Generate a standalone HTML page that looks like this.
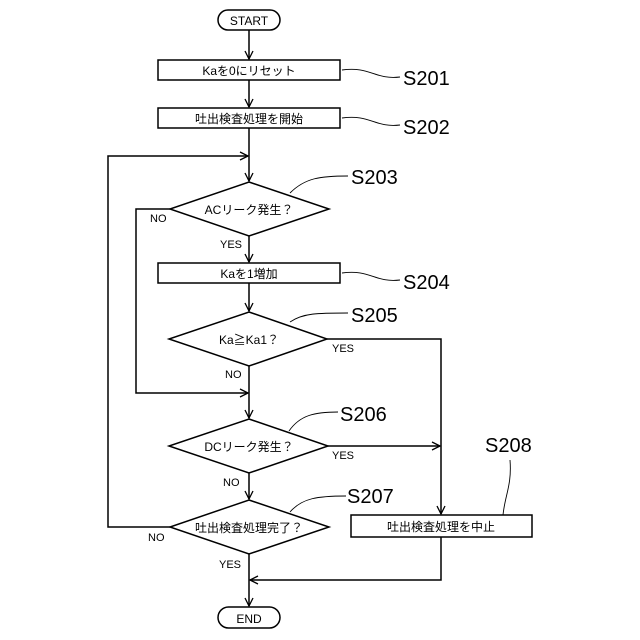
<!DOCTYPE html>
<html><head><meta charset="utf-8"><style>
html,body{margin:0;padding:0;background:#fff;}
svg{display:block;}
text{font-family:"Liberation Sans","Noto Sans CJK JP",sans-serif;fill:#000;}
.s{font-size:12px;text-anchor:middle;}
.l{font-size:20px;}
.y{font-size:11px;}
</style></head><body>
<svg width="640" height="640" viewBox="0 0 640 640" xmlns="http://www.w3.org/2000/svg">
<defs><marker id="a" markerWidth="10" markerHeight="10" refX="9" refY="5" orient="auto" markerUnits="userSpaceOnUse"><path d="M1,1 L9,5 L1,9" fill="none" stroke="#000" stroke-width="1.3"/></marker></defs>
<g fill="none" stroke="#000" stroke-width="1.5">
<rect x="218" y="10" width="62" height="20" rx="10"/>
<rect x="158" y="60" width="182" height="20"/>
<rect x="158" y="108" width="182" height="20"/>
<polygon points="249,182 329,209 249,236 170,209"/>
<rect x="158" y="263" width="182" height="20"/>
<polygon points="249,312 327,339 249,366 169,339"/>
<polygon points="249,419 328,446 249,473 169,446"/>
<polygon points="249,500 329,527 249,554 170,527"/>
<rect x="351" y="515" width="181" height="22"/>
<rect x="218" y="607" width="62" height="21" rx="10.5"/>
<line x1="249" y1="30" x2="249" y2="59" marker-end="url(#a)"/>
<line x1="249" y1="80" x2="249" y2="107" marker-end="url(#a)"/>
<line x1="249" y1="128" x2="249" y2="181" marker-end="url(#a)"/>
<polyline points="170,527 108,527 108,156 248,156" marker-end="url(#a)"/>
<line x1="249" y1="236" x2="249" y2="262" marker-end="url(#a)"/>
<line x1="249" y1="283" x2="249" y2="311" marker-end="url(#a)"/>
<polyline points="170,209 136,209 136,393 248,393" marker-end="url(#a)"/>
<line x1="249" y1="366" x2="249" y2="418" marker-end="url(#a)"/>
<line x1="249" y1="473" x2="249" y2="499" marker-end="url(#a)"/>
<polyline points="327,339 441,339 441,514" marker-end="url(#a)"/>
<line x1="328" y1="446" x2="440" y2="446" marker-end="url(#a)"/>
<polyline points="441,537 441,580 250,580" marker-end="url(#a)"/>
<line x1="249" y1="554" x2="249" y2="606" marker-end="url(#a)"/>
</g>
<g fill="none" stroke="#000" stroke-width="0.9">
<path d="M342,70 C370,66 375,80 400,77"/>
<path d="M342,118 C370,114 375,128 400,125"/>
<path d="M290,193 C305,178 320,176 348,176"/>
<path d="M342,273 C370,269 375,283 400,280"/>
<path d="M290,322 C303,313 318,313 348,313"/>
<path d="M289,431 C300,415 315,412 338,412"/>
<path d="M290,512 C302,498 318,496 346,496"/>
<path d="M503,515 C505,495 512,485 510,460"/>
</g>
<text class="s" x="249" y="25">START</text>
<text class="s" x="249" y="75">Kaを0にリセット</text>
<text class="s" x="249" y="123">吐出検査処理を開始</text>
<text class="s" x="249" y="214">ACリーク発生？</text>
<text class="s" x="249" y="278">Kaを1増加</text>
<text class="s" x="249" y="344">Ka≧Ka1？</text>
<text class="s" x="249" y="451">DCリーク発生？</text>
<text class="s" x="249" y="532">吐出検査処理完了？</text>
<text class="s" x="441" y="531">吐出検査処理を中止</text>
<text class="s" x="249" y="623">END</text>
<text class="y" x="150" y="222">NO</text>
<text class="y" x="220" y="248">YES</text>
<text class="y" x="332" y="352">YES</text>
<text class="y" x="225" y="378">NO</text>
<text class="y" x="332" y="459">YES</text>
<text class="y" x="223" y="486">NO</text>
<text class="y" x="148" y="541">NO</text>
<text class="y" x="219" y="568">YES</text>
<text class="l" x="403" y="85">S201</text>
<text class="l" x="403" y="134">S202</text>
<text class="l" x="351" y="184">S203</text>
<text class="l" x="403" y="289">S204</text>
<text class="l" x="351" y="322">S205</text>
<text class="l" x="340" y="421">S206</text>
<text class="l" x="347" y="503">S207</text>
<text class="l" x="485" y="452">S208</text>
</svg>
</body></html>
